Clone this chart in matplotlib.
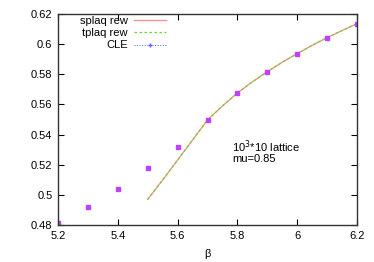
import numpy as np
import matplotlib
matplotlib.use("Agg")
import matplotlib.pyplot as plt
from matplotlib.lines import Line2D

# data
beta_cle = [5.2, 5.3, 5.4, 5.5, 5.6, 5.7, 5.8, 5.9, 6.0, 6.1, 6.2]
plaq_cle = [0.481, 0.492, 0.5037, 0.5176, 0.532, 0.550, 0.5676, 0.5817, 0.5937, 0.6043, 0.6136]
err_cle = [0.0005, 0.0005, 0.0005, 0.0005, 0.0005, 0.0005, 0.0005, 0.0005, 0.0005, 0.0005, 0.0005]

beta_rew = [5.5, 5.55, 5.6, 5.65, 5.7, 5.75, 5.8, 5.85, 5.9, 5.95, 6.0, 6.05, 6.1, 6.15, 6.2]
splaq_rew = [0.497, 0.5099, 0.5231, 0.5364, 0.5497, 0.5590, 0.5676, 0.5750, 0.5817, 0.5880, 0.5937, 0.5992, 0.6043, 0.6090, 0.6136]
tplaq_rew = [0.497, 0.5099, 0.5231, 0.5364, 0.5497, 0.5590, 0.5676, 0.5750, 0.5817, 0.5880, 0.5937, 0.5992, 0.6043, 0.6090, 0.6136]

xticks = [5.2, 5.4, 5.6, 5.8, 6.0, 6.2]
xlabels = ["5.2", "5.4", "5.6", "5.8", "6", "6.2"]
yticks = [0.48, 0.5, 0.52, 0.54, 0.56, 0.58, 0.6, 0.62]
ylabels = ["0.48", "0.5", "0.52", "0.54", "0.56", "0.58", "0.6", "0.62"]

plt.rcParams['font.family'] = ['Liberation Sans', 'DejaVu Sans']
plt.rcParams['font.size'] = 8

fig = plt.figure(figsize=(3.74, 2.62), dpi=100)
ax = fig.add_axes([58/374, 37/262, 299/374, 211/262])

red = '#ff8888'
green = '#66d633'

ax.plot(beta_rew, splaq_rew, color=red, lw=0.9)
ax.plot(beta_rew, tplaq_rew, color=green, lw=0.9, ls=(0, (2, 2)))
ax.errorbar(beta_cle, plaq_cle, yerr=err_cle, fmt='s', color='#c040ff', ms=2.2,
            ecolor='#6060ff', elinewidth=0.5, capsize=1.2)

ax.set_xlim(5.2, 6.2)
ax.set_ylim(0.48, 0.62)
ax.set_xticks(xticks)
ax.set_xticklabels(xlabels)
ax.set_yticks(yticks)
ax.set_yticklabels(ylabels)
ax.tick_params(direction='in', length=4, width=0.8, top=True, right=True, pad=4)
for s in ax.spines.values():
    s.set_linewidth(1.0)
    s.set_color('#333333')

ax.set_xlabel('β', labelpad=6)

ax.text(5.782, 0.5290, '10$^{3}$*10 lattice\nmu=0.85', fontsize=8, va='center',
        linespacing=0.95)

handles = [
    Line2D([], [], color=red, lw=0.9),
    Line2D([], [], color=green, lw=0.9, ls=(0, (2, 2))),
    Line2D([], [], color='#6060ff', lw=0.7, ls=':', marker='+', ms=3),
]
ax.legend(handles, ['splaq rew', 'tplaq rew', 'CLE'], loc='upper right',
          bbox_to_anchor=((166 - 58) / 299, (225 - 16) / 211), frameon=False,
          markerfirst=False, handlelength=2.9, handletextpad=0.55,
          labelspacing=0.2, borderpad=0.0, borderaxespad=0.0)

fig.savefig('out.png', dpi=100)
